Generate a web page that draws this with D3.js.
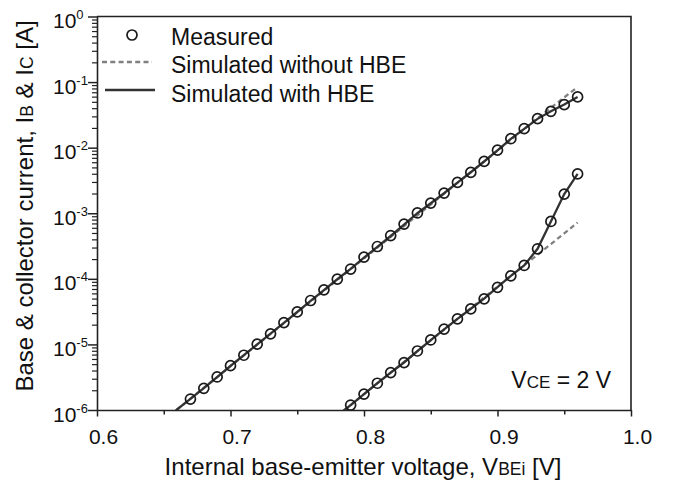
<!DOCTYPE html>
<html><head><meta charset="utf-8">
<script src="https://cdn.jsdelivr.net/npm/d3@7"></script>
<style>
body{margin:0;background:#fff}
text{font-family:"Liberation Sans",Arial,Helvetica,sans-serif;fill:#111}
</style>
</head><body>
<svg id="chart" width="676" height="484"></svg>
<script>
// ---- data ----
const vMeasIC = [0.67,0.68,0.69,0.70,0.71,0.72,0.73,0.74,0.75,0.76,0.77,0.78,0.79,0.80,0.81,0.82,0.83,0.84,0.85,0.86,0.87,0.88,0.89,0.90,0.91,0.92,0.93,0.94,0.95,0.96];
const iMeasIC = [1.47e-6,2.14e-6,3.19e-6,4.74e-6,6.84e-6,1.01e-5,1.45e-5,2.15e-5,3.13e-5,4.67e-5,6.79e-5,9.89e-5,1.41e-4,2.14e-4,3.11e-4,4.57e-4,6.84e-4,1.01e-3,1.43e-3,2.03e-3,2.95e-3,4.20e-3,6.17e-3,9.16e-3,1.37e-2,1.95e-2,2.77e-2,3.58e-2,4.53e-2,5.94e-2];
const vMeasIB = [0.79,0.80,0.81,0.82,0.83,0.84,0.85,0.86,0.87,0.88,0.89,0.90,0.91,0.92,0.93,0.94,0.95,0.96];
const iMeasIB = [1.19e-6,1.75e-6,2.56e-6,3.72e-6,5.27e-6,7.94e-6,1.17e-5,1.71e-5,2.45e-5,3.48e-5,4.95e-5,7.41e-5,1.11e-4,1.60e-4,2.87e-4,7.50e-4,1.96e-3,3.98e-3];

const vSimIC = [0.65,0.66,0.67,0.68,0.69,0.70,0.71,0.72,0.73,0.74,0.75,0.76,0.77,0.78,0.79,0.80,0.81,0.82,0.83,0.84,0.85,0.86,0.87,0.88,0.89,0.90,0.91,0.92,0.93,0.94,0.95,0.96];
const iSimICwith = [6.9e-7,1.02e-6,1.48e-6,2.16e-6,3.18e-6,4.70e-6,6.85e-6,1.00e-5,1.46e-5,2.13e-5,3.12e-5,4.62e-5,6.75e-5,9.85e-5,1.42e-4,2.10e-4,3.08e-4,4.50e-4,6.70e-4,1.00e-3,1.42e-3,2.02e-3,2.94e-3,4.22e-3,6.15e-3,9.10e-3,1.36e-2,1.94e-2,2.75e-2,3.60e-2,4.55e-2,5.94e-2];
const iSimICwithout = [7.01e-7,1.02e-6,1.49e-6,2.18e-6,3.18e-6,4.65e-6,6.79e-6,9.91e-6,1.45e-5,2.11e-5,3.09e-5,4.51e-5,6.58e-5,9.61e-5,1.40e-4,2.05e-4,2.99e-4,4.37e-4,6.38e-4,9.31e-4,1.36e-3,1.99e-3,2.90e-3,4.24e-3,6.18e-3,9.03e-3,1.32e-2,1.93e-2,2.81e-2,4.05e-2,5.85e-2,8.40e-2];

const vSimIB = [0.78,0.79,0.80,0.81,0.82,0.83,0.84,0.85,0.86,0.87,0.88,0.89,0.90,0.91,0.92,0.93,0.94,0.95,0.96];
const iSimIBwith = [8.2e-7,1.19e-6,1.75e-6,2.56e-6,3.72e-6,5.30e-6,7.90e-6,1.16e-5,1.70e-5,2.45e-5,3.50e-5,5.00e-5,7.45e-5,1.11e-4,1.60e-4,2.87e-4,7.50e-4,1.96e-3,3.98e-3];
const iSimIBwithout = [8.17e-7,1.19e-6,1.74e-6,2.54e-6,3.71e-6,5.41e-6,7.89e-6,1.15e-5,1.68e-5,2.45e-5,3.58e-5,5.22e-5,7.61e-5,1.11e-4,1.62e-4,2.33e-4,3.39e-4,4.94e-4,7.19e-4];

const xTicks = [0.6,0.7,0.8,0.9,1.0];
const xTickLabels = ["0.6","0.7","0.8","0.9","1.0"];
const xMinorTicks = [0.65,0.75,0.85,0.95];
const yTicks = [1e-6,1e-5,1e-4,1e-3,1e-2,1e-1,1];
const yTickExps = ["-6","-5","-4","-3","-2","-1","0"];
const legendLabels = ["Measured","Simulated without HBE","Simulated with HBE"];

// ---- layout ----
const svg = d3.select("#chart");
const L = 97, R = 631, T = 16.5, B = 410;
const x = d3.scaleLinear().domain([0.6,1.0]).range([L,R]);
const y = d3.scaleLog().domain([1e-6,1]).range([B,T]);

svg.append("defs").append("clipPath").attr("id","plotclip")
  .append("rect").attr("x",L).attr("y",T).attr("width",R-L).attr("height",B-T);

// frame (top and right)
svg.append("path").attr("d",`M${L},${T}H${R}V${B}`).attr("fill","none")
  .attr("stroke","#222").attr("stroke-width",1.6);

// x axis
const gx = svg.append("g").attr("transform",`translate(0,${B})`)
  .call(d3.axisBottom(x).tickValues(xTicks).tickFormat((d,i)=>xTickLabels[i]).tickSize(6.5).tickSizeOuter(0).tickPadding(13));
gx.select(".domain").attr("stroke","#222").attr("stroke-width",1.6);
gx.selectAll(".tick line").attr("stroke","#222").attr("stroke-width",1.5);
gx.selectAll(".tick text").attr("font-size",21).attr("dx",6).attr("fill","#111");
const gxm = svg.append("g").attr("transform",`translate(0,${B})`)
  .call(d3.axisBottom(x).tickValues(xMinorTicks).tickFormat("").tickSize(4.5).tickSizeOuter(0));
gxm.select(".domain").remove();
gxm.selectAll(".tick line").attr("stroke","#222").attr("stroke-width",1.5);

// y axis
const yMinor = [];
for (let e=-6;e<0;e++) for (let m=2;m<=9;m++) yMinor.push(m*Math.pow(10,e));
const gy = svg.append("g").attr("transform",`translate(${L},0)`)
  .call(d3.axisLeft(y).tickValues(yTicks).tickFormat("").tickSize(9).tickSizeOuter(0));
gy.select(".domain").attr("stroke","#222").attr("stroke-width",1.6);
gy.selectAll(".tick line").attr("stroke","#222").attr("stroke-width",1.5);
gy.selectAll(".tick").each(function(d,i){
  const t = d3.select(this).append("text").attr("x",-44).attr("y",11)
    .attr("text-anchor","start").attr("font-size",21).attr("fill","#111");
  t.append("tspan").text("10");
  t.append("tspan").attr("dy",-9).attr("font-size",13).text(yTickExps[i]);
});
const gym = svg.append("g").attr("transform",`translate(${L},0)`)
  .call(d3.axisLeft(y).tickValues(yMinor).tickFormat("").tickSize(5).tickSizeOuter(0));
gym.select(".domain").remove();
gym.selectAll(".tick line").attr("stroke","#222").attr("stroke-width",1.2);

// axis titles
const xt = svg.append("text").attr("x",(L+R)/2 - 1).attr("y",475).attr("text-anchor","middle").attr("font-size",24);
xt.append("tspan").text("Internal base-emitter voltage, V");
xt.append("tspan").attr("font-size",17.5).text("BEi");
xt.append("tspan").text(" [V]");

const yt = svg.append("text").attr("transform","translate(33,206) rotate(-90)").attr("text-anchor","middle").attr("font-size",24);
yt.append("tspan").text("Base & collector current, I");
yt.append("tspan").attr("font-size",17.5).text("B");
yt.append("tspan").text(" & I");
yt.append("tspan").attr("font-size",17.5).text("C");
yt.append("tspan").text(" [A]");

// lines
const plot = svg.append("g").attr("clip-path","url(#plotclip)");
const line = d3.line().x(d=>x(d[0])).y(d=>y(d[1]));
const zip = (a,b)=>a.map((v,i)=>[v,b[i]]);
const dashStyle = s => s.attr("fill","none").attr("stroke","#808080").attr("stroke-width",2.3).attr("stroke-dasharray","5,3.3");
const solidStyle = s => s.attr("fill","none").attr("stroke","#333").attr("stroke-width",2.3);

plot.append("path").datum(zip(vSimIC,iSimICwithout)).attr("d",line).call(dashStyle);
plot.append("path").datum(zip(vSimIB,iSimIBwithout)).attr("d",line).call(dashStyle);
plot.append("path").datum(zip(vSimIC,iSimICwith)).attr("d",line).call(solidStyle);
plot.append("path").datum(zip(vSimIB,iSimIBwith)).attr("d",line).call(solidStyle);

// measured markers
const circ = s => s.attr("r",5).attr("fill","none").attr("stroke","#1a1a1a").attr("stroke-width",1.7);
plot.selectAll("circle.ic").data(zip(vMeasIC,iMeasIC)).join("circle").attr("class","ic")
  .attr("cx",d=>x(d[0])).attr("cy",d=>y(d[1])).call(circ);
plot.selectAll("circle.ib").data(zip(vMeasIB,iMeasIB)).join("circle").attr("class","ib")
  .attr("cx",d=>x(d[0])).attr("cy",d=>y(d[1])).call(circ);

// legend
const lg = svg.append("g");
lg.append("circle").attr("cx",132).attr("cy",35).call(circ);
lg.append("line").attr("x1",102).attr("x2",152).attr("y1",62).attr("y2",62).call(dashStyle);
lg.append("line").attr("x1",105).attr("x2",155).attr("y1",90).attr("y2",90).call(solidStyle);
legendLabels.forEach((s,i)=>{
  lg.append("text").attr("x",171).attr("y",45+i*28.3).attr("font-size",23).text(s);
});

// annotation
const vt = svg.append("text").attr("x",611).attr("y",388).attr("text-anchor","end").attr("font-size",23);
vt.append("tspan").text("V");
vt.append("tspan").attr("font-size",17).text("CE");
vt.append("tspan").text(" = 2 V");
</script>
</body></html>
